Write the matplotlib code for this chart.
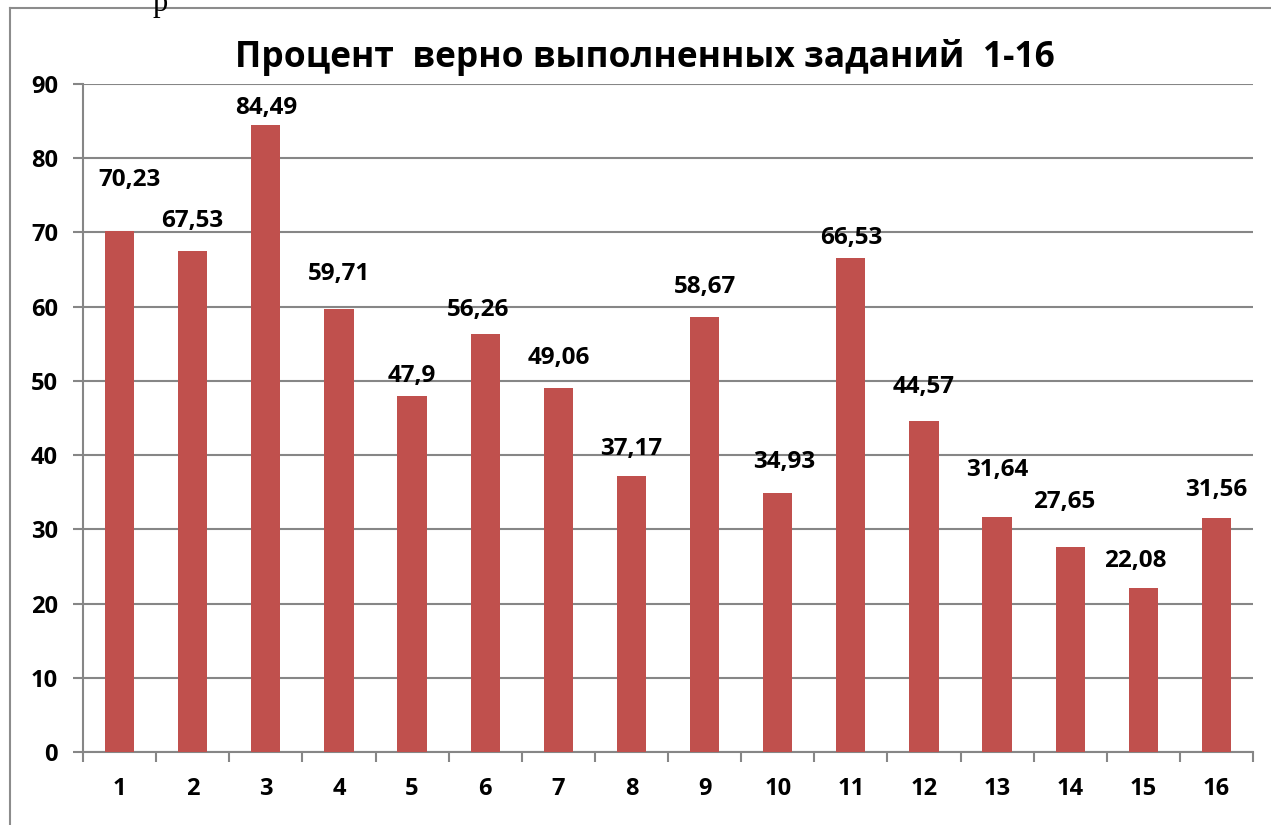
import matplotlib
matplotlib.use('Agg')
import matplotlib.pyplot as plt
from matplotlib.lines import Line2D
import numpy as np

# data
tasks = [str(i) for i in range(1, 17)]
percent = [70.23, 67.53, 84.49, 59.71, 47.9, 56.26, 49.06, 37.17,
           58.67, 34.93, 66.53, 44.57, 31.64, 27.65, 22.08, 31.56]
labels = ['70,23', '67,53', '84,49', '59,71', '47,9', '56,26', '49,06', '37,17',
          '58,67', '34,93', '66,53', '44,57', '31,64', '27,65', '22,08', '31,56']
yticks = [0, 10, 20, 30, 40, 50, 60, 70, 80, 90]
title = 'Процент  верно выполненных заданий  1-16'

# manual label nudges (points), labels were dragged around in the original
lab_dx = [7, 0, 0, 0, 0, -5, 0, 0, 0, 5, 0, 0, 0, -4, -6, 0]
lab_dy = [36.5, 21.5, 12.2, 25, 14.8, 17.6, 21.5, 19.5, 21.3, 22, 14.5, 24.6, 34, 32.3, 19.5, 20]

plt.rcParams['font.family'] = ['Open Sans', 'DejaVu Sans']
plt.rcParams['font.weight'] = 'bold'

fig = plt.figure(figsize=(12.71, 8.25), dpi=100)
ax = fig.add_axes([83/1271, 1-752/825, 1170/1271, 668/825])

grid_c = '#868686'
x = np.arange(len(tasks))
ax.bar(x, percent, width=0.4, color='#C0504D', zorder=3)

for i in range(len(tasks)):
    ax.annotate(labels[i], (x[i], percent[i]), xytext=(lab_dx[i], lab_dy[i]),
                textcoords='offset points', ha='center', va='center',
                fontsize=17.5, fontweight='bold', zorder=4)

ax.set_xlim(-0.5, len(tasks) - 0.5)
ax.set_ylim(0, 90)
ax.set_yticks(yticks)
ax.set_yticklabels([str(v) for v in yticks], fontsize=17, fontweight='bold')
ax.set_xticks(x)
ax.set_xticklabels(tasks, fontsize=17, fontweight='bold')
ax.tick_params(axis='x', length=0, pad=18)
ax.set_xticks(np.arange(-0.5, len(tasks)), minor=True)
ax.tick_params(axis='x', which='minor', length=7, width=1.5, color=grid_c, direction='out')
ax.tick_params(axis='y', length=7, width=1.5, color=grid_c, pad=11)
ax.grid(axis='y', color=grid_c, lw=1.5, zorder=0)

for s in ['top', 'right']:
    ax.spines[s].set_visible(False)
for s in ['left', 'bottom']:
    ax.spines[s].set_color(grid_c)
    ax.spines[s].set_linewidth(1.5)

fig.text(645/1271, 1-58/825, title, ha='center', va='center',
         fontsize=25.5, fontweight='bold')

# outer chart frame (cut off at bottom/right)
fig.add_artist(Line2D([10/1271, 10/1271], [0, 1-8/825], color='#8c8c8c', lw=1.5))
fig.add_artist(Line2D([10/1271, 1], [1-8/825, 1-8/825], color='#8c8c8c', lw=1.5))
# stray letter from the document above
fig.text(160/1271, 1-4/825, 'р', ha='center', va='center', fontsize=22,
         family='Liberation Serif', fontweight='normal')

fig.savefig('out.png', dpi=100)
